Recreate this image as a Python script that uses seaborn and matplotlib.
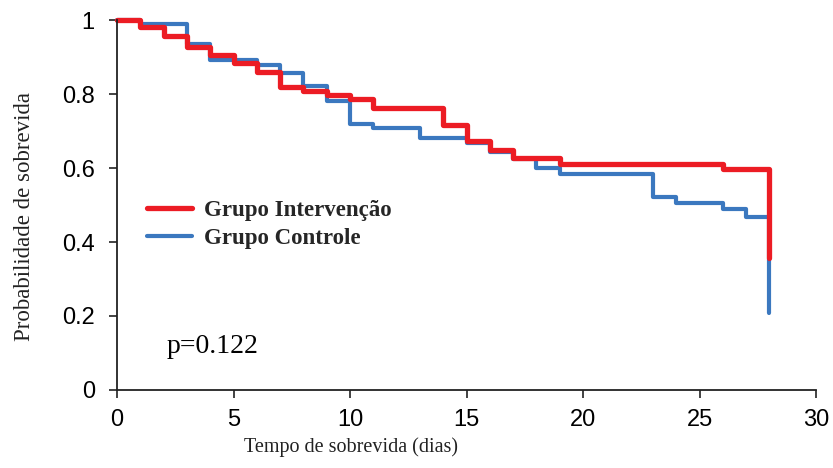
import matplotlib
matplotlib.use("Agg")
import matplotlib.pyplot as plt
import seaborn as sns
import pandas as pd
from matplotlib.lines import Line2D

# ---- data ----
int_days = [0, 1, 2, 3, 4, 5, 6, 7, 8, 9, 10, 11, 14, 15, 16, 17, 19, 26, 28]
int_surv = [1.0, 0.980, 0.957, 0.928, 0.905, 0.883, 0.860, 0.818, 0.808, 0.797,
            0.786, 0.763, 0.716, 0.673, 0.649, 0.626, 0.612, 0.596, 0.357]
ctl_days = [0, 1, 3, 4, 6, 7, 8, 9, 10, 11, 13, 15, 16, 17, 18, 19, 23, 24, 26, 27, 28]
ctl_surv = [1.0, 0.989, 0.934, 0.892, 0.878, 0.856, 0.822, 0.780, 0.718, 0.707,
            0.682, 0.668, 0.644, 0.624, 0.601, 0.585, 0.521, 0.506, 0.488, 0.468, 0.208]
labels = ["Grupo Intervenção", "Grupo Controle"]
x_ticks = [0, 5, 10, 15, 20, 25, 30]
y_ticks = [0, 0.2, 0.4, 0.6, 0.8, 1]
y_ticklabels = ["0", "0.2", "0.4", "0.6", "0.8", "1"]
p_text = "p=0.122"

RED = "#EC1C24"
BLUE = "#3B78BF"

sns.set_style("ticks")
plt.rcParams["font.family"] = ["Liberation Sans", "DejaVu Sans"]

fig = plt.figure(figsize=(8.33, 4.68), dpi=100)
ax = fig.add_axes([117 / 833, 1 - 390 / 468, 699 / 833, 370 / 468])

df_c = pd.DataFrame({"t": ctl_days, "s": ctl_surv})
df_i = pd.DataFrame({"t": int_days, "s": int_surv})
sns.lineplot(data=df_c, x="t", y="s", ax=ax, color=BLUE, lw=3.0,
             drawstyle="steps-post", estimator=None, sort=False, clip_on=False)
sns.lineplot(data=df_i, x="t", y="s", ax=ax, color=RED, lw=3.8,
             drawstyle="steps-post", estimator=None, sort=False, clip_on=False)

ax.set_xlim(0, 30)
ax.set_ylim(0, 1)
ax.set_xticks(x_ticks)
ax.set_xticklabels([str(v) for v in x_ticks])
ax.set_yticks(y_ticks)
ax.set_yticklabels(y_ticklabels)
ax.tick_params(axis="y", direction="out", length=6, width=1.2, pad=10,
               labelsize=17, colors="#222222", labelcolor="black")
ax.tick_params(axis="x", direction="out", length=6, width=1.2, pad=8,
               labelsize=17, colors="#222222", labelcolor="black")
for sp in ["top", "right"]:
    ax.spines[sp].set_visible(False)
for sp in ["left", "bottom"]:
    ax.spines[sp].set_linewidth(1.3)
    ax.spines[sp].set_color("#222222")

ax.set_xlabel("Tempo de sobrevida (dias)", fontfamily="Liberation Serif",
              fontsize=14.5, color="#222222")
ax.set_ylabel("Probabilidade de sobrevida", fontfamily="Liberation Serif",
              fontsize=16.5, color="#222222")
ax.xaxis.set_label_coords(0.335, -0.128)
ax.yaxis.set_label_coords(-0.117, 0.47)

handles = [Line2D([], [], color=RED, lw=3.8), Line2D([], [], color=BLUE, lw=3.0)]
ax.legend(handles, labels, loc="upper left", bbox_to_anchor=(0.043, 0.514),
          frameon=False, borderpad=0, borderaxespad=0, handlelength=1.95,
          handletextpad=0.55, labelspacing=0.32,
          prop={"family": "Liberation Serif", "weight": "bold", "size": 16.5})

ax.text(0.0715, 0.1, p_text, transform=ax.transAxes, ha="left", va="baseline",
        fontfamily="Liberation Serif", fontsize=20, color="black")

fig.savefig("out.png", dpi=100)
